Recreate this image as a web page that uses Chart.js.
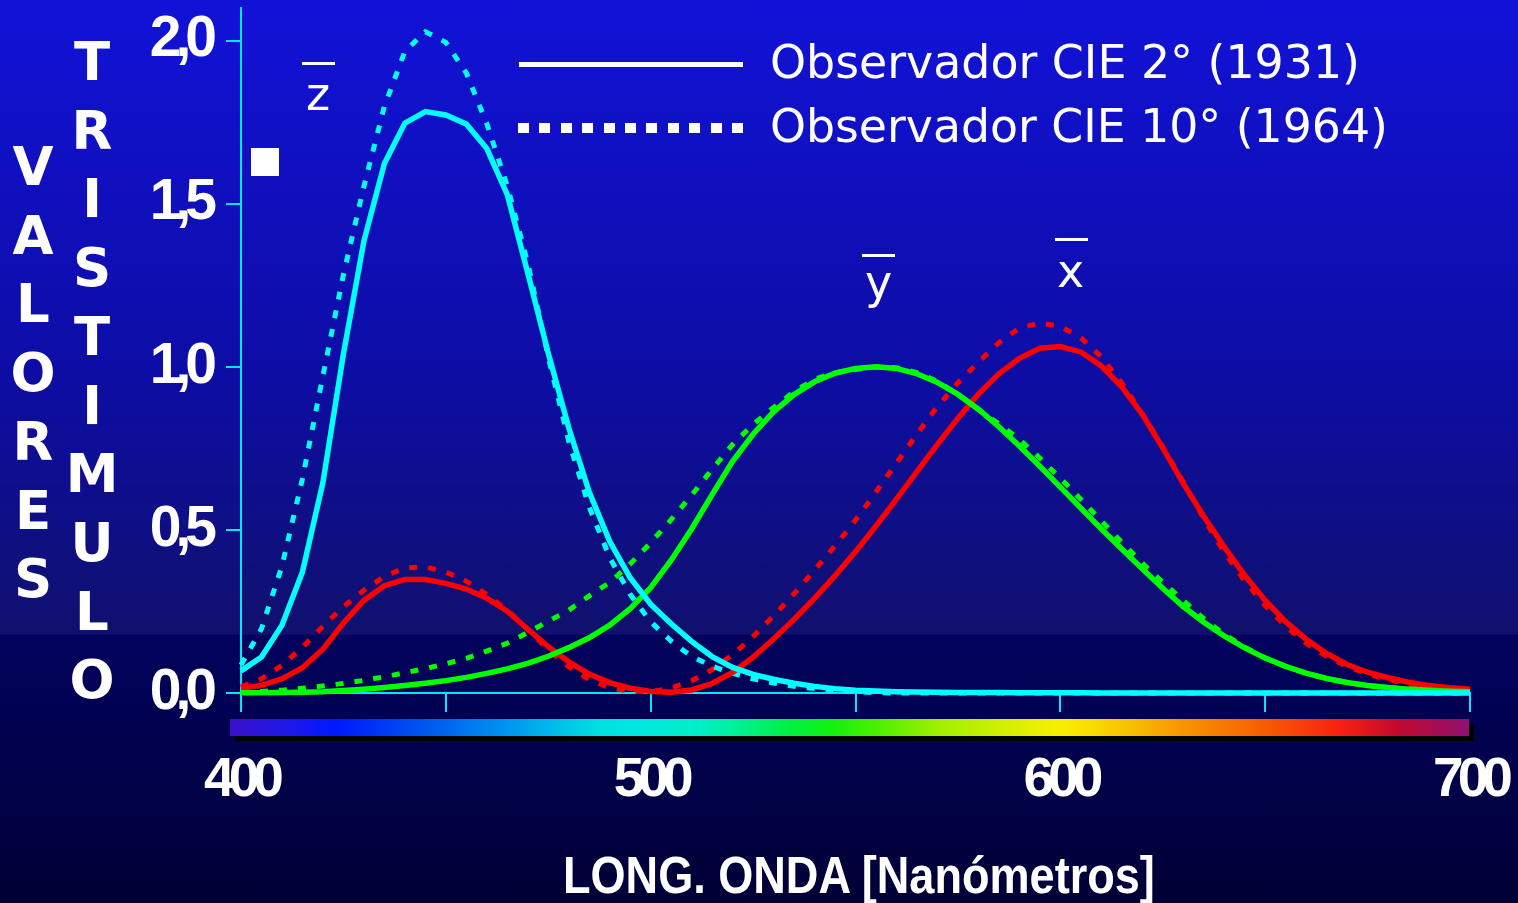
<!DOCTYPE html>
<html>
<head>
<meta charset="utf-8">
<script src="https://cdn.jsdelivr.net/npm/chart.js@4.4.1/dist/chart.umd.min.js"></script>
<style>
  html, body { margin: 0; padding: 0; }
  body {
    width: 1518px; height: 903px; overflow: hidden; position: relative;
    background: linear-gradient(to bottom, #1212d8 0px, #0d0da4 380px, #10106e 634px, #02025e 635px, #000036 903px);
    font-family: "DejaVu Sans", sans-serif; color: #fff;
  }
  #chart { position: absolute; left: 0; top: 0; }
  .txt { position: absolute; white-space: nowrap; line-height: 1; transform-origin: 0 0; }
  .bar { position: absolute; background: #fff; }
  .vert { position: absolute; width: 80px; text-align: center; font-weight: bold; font-size: 53px; line-height: 68.7px; }
  #spectrum {
    position: absolute; left: 230px; top: 719px; width: 1239px; height: 17px;
    box-shadow: 5px 5px 0 #000;
    background: linear-gradient(to right,
      #3a10c8 0%, #1818f0 5.6%, #0018ff 8.5%, #0050f0 15%, #0078f0 19.4%, #00a0f0 23.4%,
      #00c0e8 26.6%, #00e0e0 29.9%, #00e8e0 33%, #00f0c8 37.9%, #00f090 41.2%, #00f040 45.2%,
      #10f010 48.4%, #50f000 52.5%, #a0f000 57.3%, #d0f000 62.1%, #f8f000 67%, #f8c800 71.8%,
      #f89000 77.4%, #f86000 83.1%, #f82010 89.6%, #c00830 94.4%, #901070 100%);
  }
  #dots {
    position: absolute; left: 518px; top: 123px; width: 225px; height: 10px;
    background: repeating-linear-gradient(to right, #fff 0px, #fff 11px, transparent 11px, transparent 21.4px);
  }
</style>
</head>
<body>
<canvas id="chart" width="1518" height="903"></canvas>

<div id="spectrum"></div>
<div class="bar" style="left:251px;top:148px;width:28px;height:28px;"></div>

<!-- legend -->
<div class="bar" style="left:519px;top:62px;width:224px;height:5px;"></div>
<div id="dots"></div>
<div class="txt" id="leg1" style="font-size:47px;left:770px;top:38px;">Observador CIE 2° (1931)</div>
<div class="txt" id="leg2" style="font-size:47px;left:770px;top:102px;">Observador CIE 10° (1964)</div>

<!-- curve names -->
<div class="bar" style="left:302px;top:62px;width:33px;height:2.5px;"></div>
<div class="txt" style="font-size:46px;left:306px;top:71px;">z</div>
<div class="bar" style="left:862px;top:254px;width:33px;height:2.5px;"></div>
<div class="txt" style="font-size:46px;left:865px;top:259px;">y</div>
<div class="bar" style="left:1055px;top:238px;width:33px;height:2.5px;"></div>
<div class="txt" style="font-size:46px;left:1057px;top:248px;">x</div>

<!-- axis titles -->
<div class="vert" id="vt1" style="left:-7px;top:133px;"></div>
<div class="vert" id="vt2" style="left:52px;top:28px;"></div>
<div class="txt" id="xtitle" style="font-family:'Liberation Sans',sans-serif;font-weight:bold;font-size:52px;left:563px;top:849px;">LONG. ONDA [Nanómetros]</div>

<script>
// wavelength samples, nm
const wavelengths = [400, 405, 410, 415, 420, 425, 430, 435, 440, 445, 450, 455, 460, 465, 470,
  475, 480, 485, 490, 495, 500, 505, 510, 515, 520, 525, 530, 535, 540, 545, 550, 555, 560,
  565, 570, 575, 580, 585, 590, 595, 600, 605, 610, 615, 620, 625, 630, 635, 640, 645, 650,
  655, 660, 665, 670, 675, 680, 685, 690, 695, 700];

// observer 2° (1931)
const xBar2 = [0.0143, 0.0232, 0.0435, 0.0776, 0.1344, 0.2148, 0.2839, 0.3285, 0.3483, 0.3481,
  0.3362, 0.3187, 0.2908, 0.2511, 0.1954, 0.1421, 0.0956, 0.0580, 0.0320, 0.0147, 0.0049,
  0.0024, 0.0093, 0.0291, 0.0633, 0.1096, 0.1655, 0.2257, 0.2904, 0.3597, 0.4334, 0.5121,
  0.5945, 0.6784, 0.7621, 0.8425, 0.9163, 0.9786, 1.0263, 1.0567, 1.0622, 1.0456, 1.0026,
  0.9384, 0.8544, 0.7514, 0.6424, 0.5419, 0.4479, 0.3608, 0.2835, 0.2187, 0.1649, 0.1212,
  0.0874, 0.0636, 0.0468, 0.0329, 0.0227, 0.0158, 0.0114];
const yBar2 = [0.0004, 0.0006, 0.0012, 0.0022, 0.0040, 0.0073, 0.0116, 0.0168, 0.0230, 0.0298,
  0.0380, 0.0480, 0.0600, 0.0739, 0.0910, 0.1126, 0.1390, 0.1693, 0.2080, 0.2586, 0.3230,
  0.4073, 0.5030, 0.6082, 0.7100, 0.7932, 0.8620, 0.9149, 0.9540, 0.9803, 0.9950, 1.0000,
  0.9950, 0.9786, 0.9520, 0.9154, 0.8700, 0.8163, 0.7570, 0.6949, 0.6310, 0.5668, 0.5030,
  0.4412, 0.3810, 0.3210, 0.2650, 0.2170, 0.1750, 0.1382, 0.1070, 0.0816, 0.0610, 0.0446,
  0.0320, 0.0232, 0.0170, 0.0119, 0.0082, 0.0057, 0.0041];
const zBar2 = [0.0679, 0.1102, 0.2074, 0.3713, 0.6456, 1.0391, 1.3856, 1.6230, 1.7471, 1.7826,
  1.7721, 1.7441, 1.6692, 1.5281, 1.2876, 1.0419, 0.8130, 0.6162, 0.4652, 0.3533, 0.2720,
  0.2123, 0.1582, 0.1117, 0.0783, 0.0573, 0.0422, 0.0298, 0.0203, 0.0134, 0.0088, 0.0058,
  0.0039, 0.0028, 0.0021, 0.0018, 0.0017, 0.0014, 0.0011, 0.0010, 0.0008, 0.0006, 0.0003,
  0.0002, 0.0002, 0.0001, 0.0001, 0, 0, 0, 0, 0, 0, 0, 0, 0, 0, 0, 0, 0, 0];

// observer 10° (1964)
const xBar10 = [0.0191, 0.0434, 0.0847, 0.1406, 0.2045, 0.2647, 0.3147, 0.3577, 0.3837, 0.3867,
  0.3707, 0.3430, 0.3023, 0.2541, 0.1956, 0.1323, 0.0805, 0.0411, 0.0162, 0.0051, 0.0038,
  0.0154, 0.0375, 0.0714, 0.1177, 0.1730, 0.2365, 0.3042, 0.3768, 0.4516, 0.5298, 0.6161,
  0.7052, 0.7938, 0.8787, 0.9512, 1.0142, 1.0743, 1.1185, 1.1343, 1.1240, 1.0891, 1.0305,
  0.9507, 0.8563, 0.7549, 0.6475, 0.5351, 0.4316, 0.3437, 0.2683, 0.2043, 0.1526, 0.1122,
  0.0813, 0.0579, 0.0409, 0.0286, 0.0199, 0.0138, 0.0096];
const yBar10 = [0.0020, 0.0045, 0.0088, 0.0145, 0.0214, 0.0295, 0.0387, 0.0496, 0.0621, 0.0747,
  0.0895, 0.1063, 0.1282, 0.1528, 0.1852, 0.2199, 0.2536, 0.2977, 0.3391, 0.3954, 0.4608,
  0.5314, 0.6067, 0.6857, 0.7618, 0.8233, 0.8752, 0.9238, 0.9620, 0.9822, 0.9918, 0.9991,
  0.9973, 0.9824, 0.9556, 0.9152, 0.8689, 0.8256, 0.7774, 0.7204, 0.6583, 0.5939, 0.5280,
  0.4618, 0.3981, 0.3396, 0.2835, 0.2283, 0.1798, 0.1402, 0.1076, 0.0812, 0.0603, 0.0441,
  0.0318, 0.0226, 0.0159, 0.0111, 0.0077, 0.0054, 0.0037];
const zBar10 = [0.0860, 0.1971, 0.3894, 0.6568, 0.9725, 1.2825, 1.5535, 1.7985, 1.9673, 2.0273,
  1.9948, 1.9007, 1.7454, 1.5549, 1.3176, 1.0302, 0.7721, 0.5701, 0.4153, 0.3024, 0.2185,
  0.1592, 0.1120, 0.0822, 0.0607, 0.0431, 0.0305, 0.0206, 0.0137, 0.0079, 0.0040, 0.0011,
  0, 0, 0, 0, 0, 0, 0, 0, 0, 0, 0, 0, 0, 0, 0, 0, 0, 0, 0, 0, 0, 0, 0, 0, 0, 0, 0, 0, 0];

const xTickLabels = { 400: "400", 500: "500", 600: "600", 700: "700" };
const yTickLabels = { 0: "0,0", 0.5: "0,5", 1: "1,0", 1.5: "1,5", 2: "2,0" };

const CYAN = "#00ffff", RED = "#ff0000", GREEN = "#00ff00", AXIS = "#00e8f8";
const DOTS = [8, 11];

function series(values) {
  return wavelengths.map((w, i) => ({ x: w, y: values[i] }));
}

function line(values, color, dotted) {
  return {
    data: series(values),
    borderColor: color,
    borderWidth: dotted ? 5 : 5.5,
    borderDash: dotted ? DOTS : [],
    pointRadius: 0,
    tension: 0,
    fill: false,
    clip: false
  };
}

// fixed axis boxes, no extra room for overhanging labels
function fixBox(s, size) {
  if (s.isHorizontal()) s.height = size; else s.width = size;
  s.paddingTop = s.paddingBottom = s.paddingLeft = s.paddingRight = 0;
}

// condensed digits on the axes: tighten letters while the scales draw
const tickSpacing = {
  id: "tickSpacing",
  beforeDraw(chart) { chart.ctx.letterSpacing = "-6px"; },
  beforeDatasetsDraw(chart) { chart.ctx.letterSpacing = "0px"; }
};

new Chart(document.getElementById("chart"), {
  type: "line",
  data: {
    datasets: [
      line(zBar2, CYAN, false),
      line(yBar2, GREEN, false),
      line(xBar2, RED, false),
      line(zBar10, CYAN, true),
      line(yBar10, GREEN, true),
      line(xBar10, RED, true)
    ]
  },
  plugins: [tickSpacing],
  options: {
    responsive: false,
    animation: false,
    events: [],
    layout: { padding: { top: 8, right: 48, left: 0, bottom: 0 } },
    plugins: { legend: { display: false }, tooltip: { enabled: false } },
    scales: {
      x: {
        type: "linear",
        min: 400,
        max: 700,
        afterFit: s => fixBox(s, 210),
        ticks: {
          stepSize: 50,
          autoSkip: false,
          maxRotation: 0,
          color: "#fff",
          padding: 36,
          font: { family: "Liberation Sans", weight: "bold", size: 55 },
          callback: v => xTickLabels[v] || ""
        },
        grid: { drawOnChartArea: false, tickLength: 19, color: AXIS, lineWidth: 2 },
        border: { color: AXIS, width: 2 }
      },
      y: {
        min: 0,
        max: 2.1,
        afterFit: s => fixBox(s, 241),
        ticks: {
          stepSize: 0.5,
          includeBounds: false,
          color: "#fff",
          padding: 15,
          font: { family: "Liberation Sans", weight: "bold", size: 57 },
          callback: v => yTickLabels[v] || ""
        },
        grid: { drawOnChartArea: false, tickLength: 15, color: AXIS, lineWidth: 2 },
        border: { color: AXIS, width: 2 }
      }
    }
  }
});

// stacked vertical titles
document.getElementById("vt1").innerHTML = "VALORES".split("").join("<br>");
document.getElementById("vt2").innerHTML = "TRISTIMULO".split("").join("<br>");

// squeeze html labels to their set widths
function fitWidth(id, w) {
  const el = document.getElementById(id);
  el.style.transform = "scaleX(" + (w / el.scrollWidth) + ")";
}
fitWidth("leg1", 590);
fitWidth("leg2", 618);
fitWidth("xtitle", 592);
</script>
</body>
</html>
